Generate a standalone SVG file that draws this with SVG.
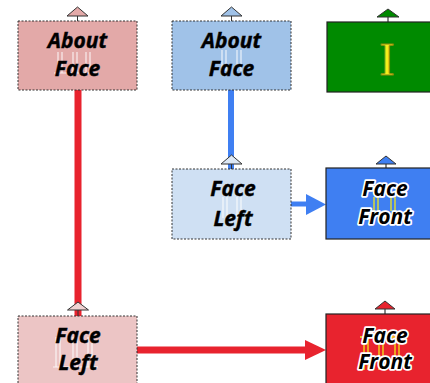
<svg xmlns="http://www.w3.org/2000/svg" width="430" height="383" viewBox="0 0 430 383">
  <style>
    .lbl { font-family: "Open Sans", "Liberation Sans", sans-serif; font-weight: bold; font-style: italic; font-size: 21px; text-anchor: middle; fill: #000; stroke: #000; stroke-width: 0.4px; }
    .halo { stroke: #fff; stroke-width: 3.5px; stroke-linejoin: round; paint-order: stroke; }
    .pale { stroke: #333; stroke-width: 1; stroke-dasharray: 2 1.5; }
    .solid { stroke: #222; stroke-width: 1.2; }
    .tri { stroke: #333; stroke-width: 1; stroke-linejoin: miter; }
    .pillar { stroke: #fff; stroke-width: 1.2; opacity: 0.8; }
    .gold { stroke: #f3e81a; stroke-width: 1.3; }
  </style>

  <!-- connectors -->
  <g id="connectors">
    <line x1="78" y1="90" x2="78" y2="316" stroke="#e8232e" stroke-width="7"/>
    <line x1="231" y1="90" x2="231" y2="169" stroke="#3f7ff2" stroke-width="6"/>
    <line x1="291" y1="204" x2="308" y2="204" stroke="#3f7ff2" stroke-width="5"/>
    <polygon points="306,194 326,204.5 306,215" fill="#3f7ff2"/>
    <line x1="137" y1="350" x2="307" y2="350" stroke="#e8232e" stroke-width="7"/>
    <polygon points="305,340 326,350 305,360" fill="#e8232e"/>
  </g>

  <!-- About Face (red branch) -->
  <g id="about-face-red">
    <line x1="77.5" y1="16" x2="77.5" y2="21" stroke="#333"/>
    <polygon class="tri" points="67,16 77.5,7 88,16" fill="#e3a9a8"/>
    <rect class="pale" x="18" y="21" width="119" height="69" fill="#e3a9a8"/>
    <g class="pillar">
      <line x1="58" y1="52" x2="58" y2="73"/><line x1="62" y1="52" x2="62" y2="73"/>
      <line x1="73" y1="52" x2="73" y2="73"/><line x1="77" y1="52" x2="77" y2="73"/>
      <line x1="86" y1="52" x2="86" y2="73"/><line x1="90" y1="52" x2="90" y2="73"/>
      <line x1="54" y1="73" x2="98" y2="73"/>
    </g>
    <text class="lbl" x="77.5" y="48">About</text>
    <text class="lbl" x="77.5" y="76">Face</text>
  </g>

  <!-- About Face (blue branch) -->
  <g id="about-face-blue">
    <line x1="231.5" y1="16" x2="231.5" y2="21" stroke="#333"/>
    <polygon class="tri" points="221,16 231.5,7 242,16" fill="#a0c2e8"/>
    <rect class="pale" x="172" y="21" width="119" height="69" fill="#a0c2e8"/>
    <g class="pillar">
      <line x1="222" y1="50" x2="222" y2="71"/><line x1="226" y1="50" x2="226" y2="71"/>
      <line x1="237" y1="50" x2="237" y2="71"/><line x1="241" y1="50" x2="241" y2="71"/>
    </g>
    <text class="lbl" x="231.5" y="48">About</text>
    <text class="lbl" x="231.5" y="76">Face</text>
  </g>

  <!-- I (green) -->
  <g id="node-i">
    <line x1="388" y1="17" x2="388" y2="22" stroke="#111"/>
    <polygon class="tri" points="377,17 388,9 399,17" fill="#008a00" stroke="#111"/>
    <rect class="solid" x="327" y="22" width="122" height="70" fill="#008a00"/>
    <text x="387" y="75" text-anchor="middle" font-family="Liberation Serif, serif" font-size="46" fill="#f5ee1c" stroke="#8a8a10" stroke-width="0.9">I</text>
  </g>

  <!-- Face Left (blue branch) -->
  <g id="face-left-blue">
    <line x1="231.5" y1="164" x2="231.5" y2="169" stroke="#333"/>
    <polygon class="tri" points="221,164 231.5,155 242,164" fill="#dde8f5"/>
    <rect class="pale" x="172" y="169" width="119" height="70" fill="#cfe0f3"/>
    <g class="pillar">
      <line x1="223" y1="197" x2="223" y2="218"/><line x1="227" y1="197" x2="227" y2="218"/>
      <line x1="237" y1="197" x2="237" y2="218"/><line x1="241" y1="197" x2="241" y2="218"/>
    </g>
    <text class="lbl" x="233" y="196">Face</text>
    <text class="lbl" x="233" y="226">Left</text>
  </g>

  <!-- Face Front (blue) -->
  <g id="face-front-blue">
    <line x1="386" y1="164" x2="386" y2="168" stroke="#111"/>
    <polygon class="tri" points="376,164 386,156 396,164" fill="#3f7ff2" stroke="#111"/>
    <rect class="solid" x="326" y="168" width="120" height="71" fill="#3f7ff2"/>
    <g class="gold">
      <line x1="374" y1="197" x2="374" y2="211"/><line x1="378" y1="197" x2="378" y2="211"/>
      <line x1="391" y1="197" x2="391" y2="211"/><line x1="395" y1="197" x2="395" y2="211"/>
    </g>
    <text class="lbl halo" x="385" y="196">Face</text>
    <text class="lbl halo" x="385" y="224">Front</text>
  </g>

  <!-- Face Left (red branch) -->
  <g id="face-left-red">
    <line x1="78" y1="310" x2="78" y2="316" stroke="#333"/>
    <polygon class="tri" points="67.5,310 78,302 88.5,310" fill="#f0d2d2"/>
    <rect class="pale" x="18" y="316" width="119" height="72" fill="#ecc5c5"/>
    <g class="pillar">
      <line x1="56" y1="337" x2="56" y2="367"/><line x1="60" y1="337" x2="60" y2="367"/>
      <line x1="73" y1="337" x2="73" y2="367"/><line x1="77" y1="337" x2="77" y2="367"/>
      <line x1="88" y1="337" x2="88" y2="367"/><line x1="92" y1="337" x2="92" y2="367"/>
      <line x1="53" y1="367" x2="98" y2="367"/>
    </g>
    <text class="lbl" x="78" y="343">Face</text>
    <text class="lbl" x="78" y="370">Left</text>
  </g>

  <!-- Face Front (red) -->
  <g id="face-front-red">
    <line x1="385" y1="309" x2="385" y2="314" stroke="#111"/>
    <polygon class="tri" points="375,309 385,301 395,309" fill="#e8232e" stroke="#111"/>
    <rect class="solid" x="326" y="314" width="120" height="72" fill="#e8232e"/>
    <g class="gold">
      <line x1="364" y1="338" x2="364" y2="370"/><line x1="368" y1="338" x2="368" y2="370"/>
      <line x1="379" y1="338" x2="379" y2="370"/><line x1="383" y1="338" x2="383" y2="370"/>
      <line x1="395" y1="338" x2="395" y2="370"/><line x1="399" y1="338" x2="399" y2="370"/>
      <line x1="360" y1="337" x2="404" y2="337"/>
    </g>
    <text class="lbl halo" x="385" y="343">Face</text>
    <text class="lbl halo" x="385" y="369">Front</text>
  </g>
</svg>
